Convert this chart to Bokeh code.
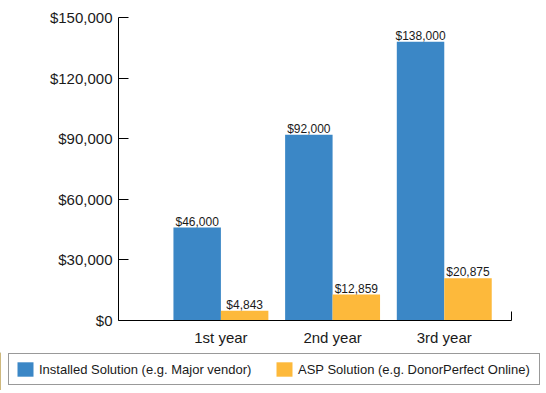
from bokeh.plotting import figure
from bokeh.layouts import column
from bokeh.models import (ColumnDataSource, FixedTicker, NumeralTickFormatter,
                          Legend, LegendItem, Range1d)
from bokeh.transform import dodge
from bokeh.core.properties import value
from bokeh.embed import file_html
from bokeh.resources import INLINE

categories = ["1st year", "2nd year", "3rd year"]
installed = [46000, 92000, 138000]
asp = [4843, 12859, 20875]
series_names = ["Installed Solution (e.g. Major vendor)",
                "ASP Solution (e.g. DonorPerfect Online)"]
y_ticks = [0, 30000, 60000, 90000, 120000, 150000]

BLUE = "#3B87C6"
ORANGE = "#FDB93B"
FONT = "Liberation Sans"
TXT = "#1a1a1a"
W = 544

pos = list(range(1, len(categories) + 1))
src = ColumnDataSource(dict(
    x=pos,
    installed=installed,
    asp=asp,
    inst_lbl=[f"${v:,}" for v in installed],
    asp_lbl=[f"${v:,}" for v in asp],
))

p = figure(width=W, height=352,
           x_range=Range1d(0.083, 3.602), y_range=Range1d(0, 150000),
           output_backend="svg", toolbar_location=None,
           min_border_left=118, min_border_right=W - 511,
           min_border_top=17, min_border_bottom=32)
p.outline_line_color = None
p.xgrid.visible = False
p.ygrid.visible = False
p.frame_align = False

bw = 0.425
off = bw / 2
r1 = p.vbar(x=dodge('x', -off), top='installed', width=bw, source=src,
            fill_color=BLUE, line_color=None)
r2 = p.vbar(x=dodge('x', off), top='asp', width=bw, source=src,
            fill_color=ORANGE, line_color=None)

for col, lbl, dx in (("installed", "inst_lbl", -off), ("asp", "asp_lbl", off)):
    p.text(x=dodge('x', dx), y=col, text=lbl, source=src,
           text_align="center", text_baseline="alphabetic", y_offset=-6,
           text_font=value(FONT), text_font_size="12px", text_color=TXT)

# y axis
ya = p.yaxis[0]
ya.ticker = FixedTicker(ticks=y_ticks)
ya.formatter = NumeralTickFormatter(format="$0,0")
ya.major_tick_in = 10
ya.major_tick_out = 0
ya.minor_tick_line_color = None
ya.axis_line_color = "black"
ya.major_tick_line_color = "black"
ya.major_label_standoff = 6
ya.major_label_text_font = FONT
ya.major_label_text_font_size = "15px"
ya.major_label_text_color = TXT

# x axis
xa = p.xaxis[0]
xa.ticker = FixedTicker(ticks=pos, minor_ticks=[3.6])
xa.major_label_overrides = {i: c for i, c in zip(pos, categories)}
xa.major_tick_line_color = None
xa.minor_tick_in = 9
xa.minor_tick_out = 0
xa.minor_tick_line_color = "black"
xa.axis_line_color = "black"
xa.major_label_standoff = 2
xa.major_label_text_font = FONT
xa.major_label_text_font_size = "15px"
xa.major_label_text_color = TXT

# legend strip below the chart (its own frame spans the full width)
LH = 38
lf = figure(width=W, height=LH, x_range=Range1d(100, 101), y_range=Range1d(0, 1),
            output_backend="svg", toolbar_location=None,
            x_axis_location=None, y_axis_location=None,
            min_border=0, min_border_left=0, min_border_right=0,
            min_border_top=0, min_border_bottom=0)
lf.frame_align = False
lf.outline_line_color = None
lf.xgrid.visible = False
lf.ygrid.visible = False
g1 = lf.vbar(x='x', top='installed', width=0.1, source=src,
             fill_color=BLUE, line_color=None)
g2 = lf.vbar(x='x', top='asp', width=0.1, source=src,
             fill_color=ORANGE, line_color=None)

legend = Legend(items=[LegendItem(label=series_names[0], renderers=[g1]),
                       LegendItem(label=series_names[1], renderers=[g2])],
                orientation="horizontal", location=(8, 5),
                padding=6, spacing=0, margin=0,
                glyph_width=20, glyph_height=18, label_standoff=4,
                label_width=235, label_height=18,
                border_line_color="#333333", border_line_width=1,
                background_fill_color="white", background_fill_alpha=1,
                label_text_font=FONT, label_text_font_size="13px",
                label_text_color=TXT)
lf.add_layout(legend)

layout = column(p, lf, spacing=0)
open("out.html", "w").write(file_html(layout, INLINE))
